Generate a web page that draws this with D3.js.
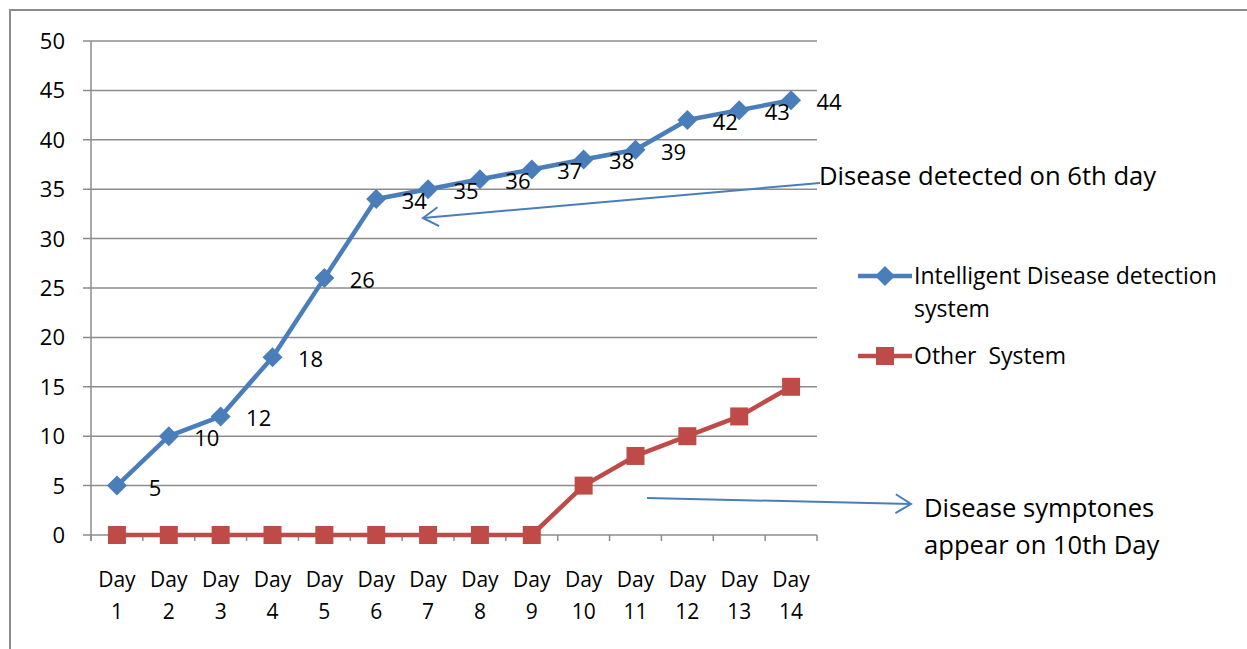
<!DOCTYPE html>
<html><head><meta charset="utf-8">
<script src="https://cdn.jsdelivr.net/npm/d3@7"></script>
<style>
html,body{margin:0;padding:0;background:#fff;}
text{font-family:"Open Sans",Lato,sans-serif;fill:#000;white-space:pre;}
</style></head>
<body><svg id="c" width="1247" height="649"></svg>
<script>
const days = ["1","2","3","4","5","6","7","8","9","10","11","12","13","14"];
const intelligentValues = [5,10,12,18,26,34,35,36,37,38,39,42,43,44];
const otherValues = [0,0,0,0,0,0,0,0,0,5,8,10,12,15];
const yTicks = [0,5,10,15,20,25,30,35,40,45,50];
const seriesNames = ["Intelligent Disease detection system","Other  System"];

(function(){
const svg = d3.select("#c");
const W = 1247, H = 649;
const pL = 91, pR = 817, pT = 41, pB = 535;
const blue = "#4A7EBB", red = "#BE4B48", grid = "#8C8C8C";
const fs = 21, nfs = 22, afs = 25.6, lfs = 23;

svg.append("rect").attr("x",10).attr("y",10).attr("width",W).attr("height",H)
  .attr("fill","none").attr("stroke",grid).attr("stroke-width",2);

const x = d3.scaleBand().domain(days).range([pL,pR]).padding(0);
const y = d3.scaleLinear().domain([0,50]).range([pB,pT]);

svg.append("g").selectAll("line").data(yTicks).join("line")
  .attr("x1",pL-8).attr("x2",pR).attr("y1",d=>y(d)).attr("y2",d=>y(d))
  .attr("stroke",grid).attr("stroke-width",1.5);
svg.append("line").attr("x1",pL).attr("x2",pL).attr("y1",pT).attr("y2",pB+6)
  .attr("stroke",grid).attr("stroke-width",1.5);
svg.append("g").selectAll("text").data(yTicks).join("text")
  .attr("x",65).attr("y",d=>y(d)).attr("dy","0.36em").attr("text-anchor","end")
  .style("font-size",nfs+"px").text(d=>d);
const bounds = days.map(d=>x(d)).concat([pR]);
svg.append("g").selectAll("line").data(bounds).join("line")
  .attr("x1",d=>d).attr("x2",d=>d).attr("y1",pB).attr("y2",pB+6)
  .attr("stroke",grid).attr("stroke-width",1.5);
const xl = svg.append("g").selectAll("text").data(days).join("text")
  .attr("text-anchor","middle").style("font-size",fs+"px");
xl.append("tspan").attr("x",d=>x(d)+x.bandwidth()/2).attr("y",587).text("Day");
xl.append("tspan").attr("x",d=>x(d)+x.bandwidth()/2).attr("y",619).text(d=>d);

const cx = d=>x(d)+x.bandwidth()/2;
const line = d3.line().x(d=>cx(d[0])).y(d=>y(d[1]));

const oData = days.map((d,i)=>[d,otherValues[i]]);
svg.append("path").attr("d",line(oData)).attr("fill","none").attr("stroke",red)
  .attr("stroke-width",4.5).attr("stroke-linejoin","round");
svg.append("g").selectAll("rect").data(oData).join("rect")
  .attr("x",d=>cx(d[0])-9).attr("y",d=>y(d[1])-9).attr("width",18).attr("height",18)
  .attr("fill",red);

const iData = days.map((d,i)=>[d,intelligentValues[i]]);
svg.append("path").attr("d",line(iData)).attr("fill","none").attr("stroke",blue)
  .attr("stroke-width",4.5).attr("stroke-linejoin","round");
const diamond = "M0,-10L10,0L0,10L-10,0Z";
svg.append("g").selectAll("path").data(iData).join("path")
  .attr("transform",d=>`translate(${cx(d[0])},${y(d[1])})`).attr("d",diamond).attr("fill",blue);
svg.append("g").selectAll("text").data(iData).join("text")
  .attr("x",d=>cx(d[0])+38).attr("y",d=>y(d[1])+2).attr("dy","0.36em").attr("text-anchor","middle")
  .style("font-size",nfs+"px").text(d=>d[1]);

function arrow(x1,y1,x2,y2){
  svg.append("line").attr("x1",x1).attr("y1",y1).attr("x2",x2).attr("y2",y2)
    .attr("stroke",blue).attr("stroke-width",2);
  const a = Math.atan2(y2-y1,x2-x1), L=18, s=0.55;
  const p = [[x2-L*Math.cos(a-s),y2-L*Math.sin(a-s)],[x2,y2],[x2-L*Math.cos(a+s),y2-L*Math.sin(a+s)]];
  svg.append("path").attr("d","M"+p.map(q=>q.join(",")).join("L")).attr("fill","none")
    .attr("stroke",blue).attr("stroke-width",2);
}
arrow(820,183,423,218);
arrow(647,498,911,504);

svg.append("text").attr("x",819).attr("y",185).style("font-size",afs+"px")
  .text("Disease detected on 6th day");
const t2 = svg.append("text").style("font-size",afs+"px");
t2.append("tspan").attr("x",924).attr("y",517).text("Disease symptones");
t2.append("tspan").attr("x",924).attr("y",554).text("appear on 10th Day");

const lg = svg.append("g");
lg.append("line").attr("x1",858).attr("x2",912).attr("y1",276).attr("y2",276).attr("stroke",blue).attr("stroke-width",4.5);
lg.append("path").attr("transform","translate(885,276)").attr("d",diamond).attr("fill",blue);
const lt = lg.append("text").style("font-size",lfs+"px");
lt.append("tspan").attr("x",914).attr("y",284).text("Intelligent Disease detection");
lt.append("tspan").attr("x",914).attr("y",317).text("system");
lg.append("line").attr("x1",858).attr("x2",912).attr("y1",356).attr("y2",356).attr("stroke",red).attr("stroke-width",4.5);
lg.append("rect").attr("x",876).attr("y",347).attr("width",18).attr("height",18).attr("fill",red);
lg.append("text").attr("x",914).attr("y",364).style("font-size",lfs+"px").text(seriesNames[1]);
})();
</script></body></html>
